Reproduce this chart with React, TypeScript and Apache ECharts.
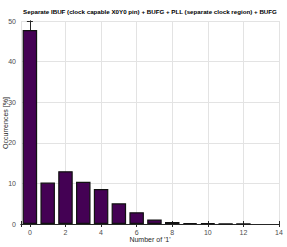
import React, { useEffect, useRef } from "react";
import * as echarts from "echarts";

const titleText = "Separate IBUF (clock capable X0Y0 pin) + BUFG + PLL (separate clock region) + BUFG";
const xName = "Number of '1'";
const yName = "Occurrences [%]";
const counts = [0, 1, 2, 3, 4, 5, 6, 7, 8, 9, 10, 11, 12];
const occurrences = [47.8, 10.2, 13.0, 10.4, 8.6, 5.1, 2.9, 1.1, 0.5, 0.25, 0.15, 0.06, 0.03];

export default function App() {
  const ref = useRef<HTMLDivElement>(null);
  useEffect(() => {
    const chart = echarts.init(ref.current!, null, { renderer: "svg" });
    const font = "Liberation Sans, Arial, sans-serif";
    const labelStyle = { fontSize: 7, color: "#4d4d4d", fontFamily: font };
    const axisLine = { show: true, lineStyle: { color: "#262626", width: 1 } };
    const tick = { show: true, inside: true, length: 3, lineStyle: { color: "#262626" } };
    const split = { show: true, lineStyle: { color: "#e3e3e3", width: 1 } };
    const xBase = {
      type: "value" as const,
      min: -0.5,
      max: 14,
      splitNumber: 7,
    };
    chart.setOption({
      animation: false,
      backgroundColor: "#ffffff",
      graphic: [
        {
          type: "text",
          x: 150,
          y: 11,
          style: {
            text: titleText,
            fontSize: 6.2,
            fontWeight: "bold",
            fill: "#000",
            fontFamily: font,
            textAlign: "center",
            textVerticalAlign: "middle",
          },
        },
        {
          type: "text",
          x: 5,
          y: 123,
          rotation: Math.PI / 2,
          style: {
            text: yName,
            fontSize: 7,
            fill: "#262626",
            fontFamily: font,
            textAlign: "center",
            textVerticalAlign: "middle",
          },
        },
      ],
      grid: {
        left: 21,
        top: 21,
        right: 8,
        bottom: 23,
        containLabel: false,
        outerBoundsMode: "none",
      },
      xAxis: [
        {
          ...xBase,
          position: "bottom",
          name: xName,
          nameLocation: "middle",
          nameGap: 12,
          nameMoveOverlap: false,
          nameTextStyle: { fontSize: 7, color: "#262626", fontFamily: font },
          axisLine,
          axisTick: tick,
          splitLine: split,
          axisLabel: {
            ...labelStyle,
            margin: 5,
            formatter: (v: number) => (Number.isInteger(v) ? String(v) : ""),
          },
        },
        {
          ...xBase,
          position: "top",
          axisLine,
          axisTick: tick,
          splitLine: { show: false },
          axisLabel: { show: false },
        },
      ],
      yAxis: [
        {
          type: "value",
          min: 0,
          max: 50,
          interval: 10,
          position: "left",
          axisLine,
          axisTick: tick,
          splitLine: split,
          axisLabel: { ...labelStyle, margin: 5 },
        },
        {
          type: "value",
          min: 0,
          max: 50,
          interval: 10,
          position: "right",
          axisLine,
          axisTick: tick,
          splitLine: { show: false },
          axisLabel: { show: false },
        },
      ],
      series: [
        {
          type: "bar",
          xAxisIndex: 0,
          yAxisIndex: 0,
          barWidth: 14.5,
          data: counts.map((c, i) => [c, occurrences[i]]),
          itemStyle: { color: "#440154", borderColor: "#111111", borderWidth: 1.2 },
        },
      ],
    });
    return () => chart.dispose();
  }, []);
  return (
    <div
      ref={ref}
      style={{ position: "fixed", left: 0, top: 0, width: 287, height: 247, background: "#fff" }}
    />
  );
}
